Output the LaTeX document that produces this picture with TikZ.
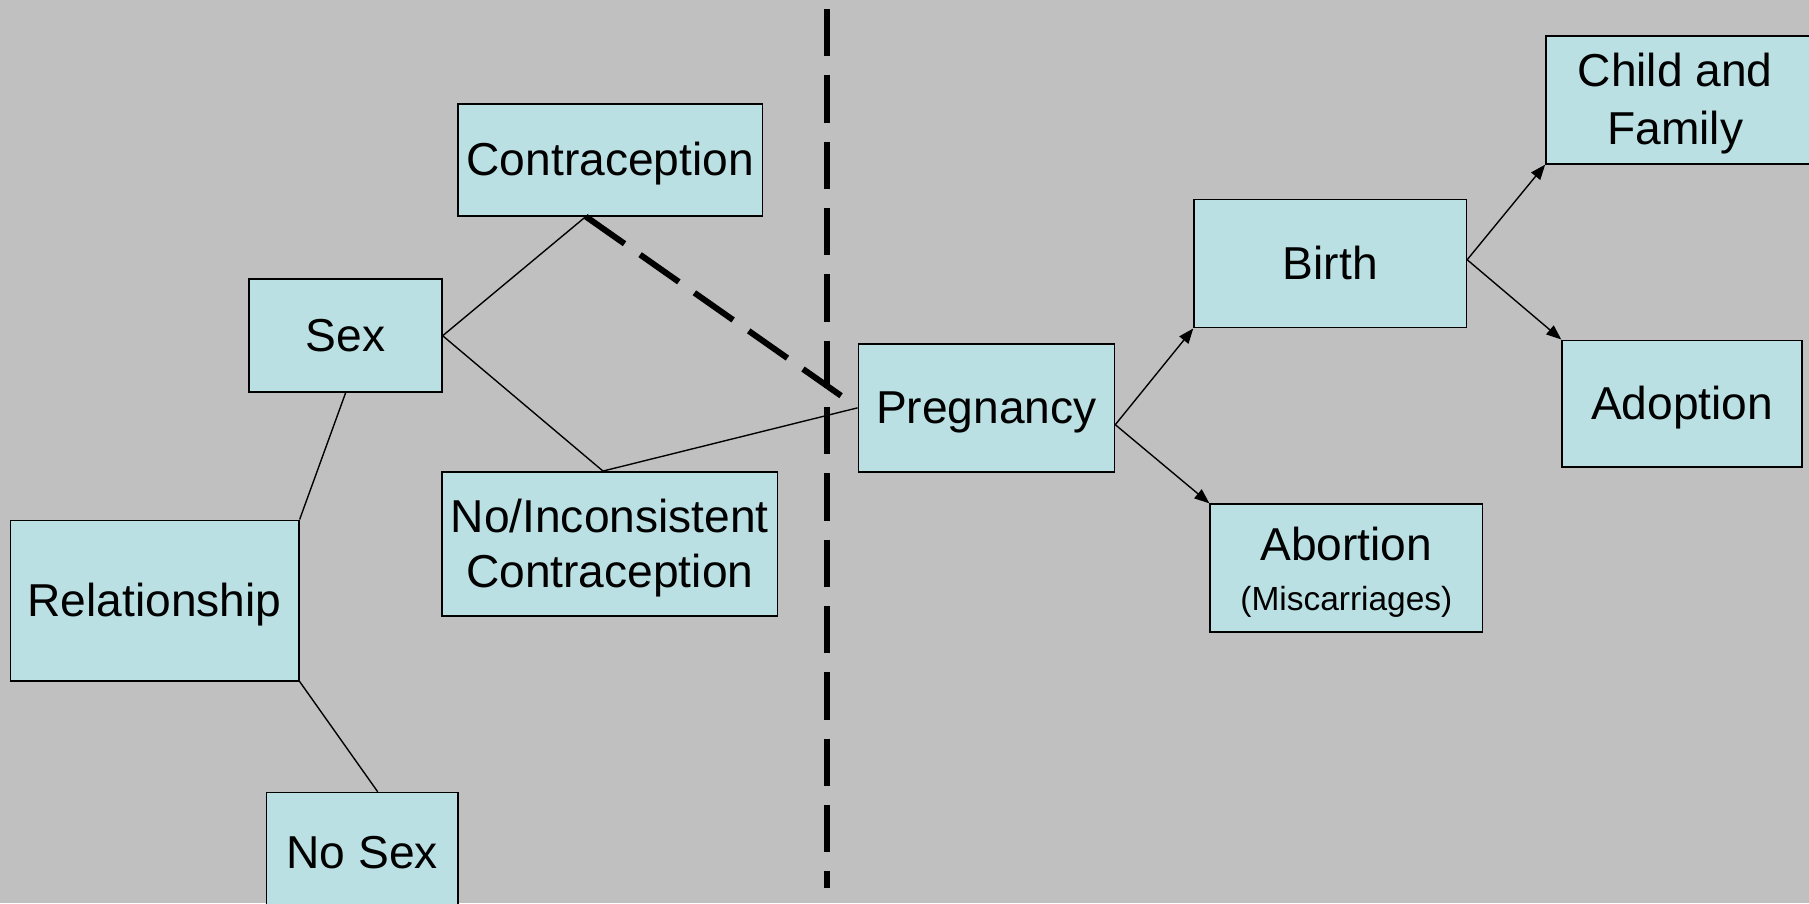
\documentclass[tikz,border=0pt]{standalone}
\usepackage{fontspec}
\setmainfont{Liberation Sans}
\usetikzlibrary{arrows.meta,calc}
\definecolor{bggray}{RGB}{192,192,192}
\definecolor{boxfill}{RGB}{186,224,227}
\newcommand\tstrut{\rule{0pt}{0.905em}}
\newcommand\bstrut{\rule[-0.212em]{0pt}{0.212em}}
\begin{document}
\begin{tikzpicture}[x=1pt,y=-1pt,
  box/.style={draw=black,fill=boxfill,line width=1.4pt,inner sep=0pt,align=center,
    font=\fontsize{40}{48}\selectfont},
  conn/.style={draw=black,line width=1.2pt},
  arr/.style={conn,-{Triangle[length=13pt,width=10pt]}},
  thickdash/.style={draw=black,line width=5.2pt,dash pattern=on 41pt off 16.5pt}]
\useasboundingbox (0,0) rectangle (1568,782.7);
\clip (0,0) rectangle (1568,782.7);
\fill[bggray] (0,0) rectangle (1568,782.7);

% nodes
\node[box,minimum width=264pt,minimum height=97pt] (contra) at (529,138.5) {\tstrut Contraception\bstrut};
\node[box,minimum width=167pt,minimum height=98pt] (sex) at (299.5,291) {\tstrut Sex\bstrut};
\node[box,minimum width=250pt,minimum height=139pt] (rel) at (134,520.5) {\tstrut Relationship\bstrut};
\node[box,minimum width=166pt,minimum height=103pt] (nosex) at (314,738.5) {\tstrut No Sex\bstrut};
\node[box,minimum width=291pt,minimum height=125pt,font=\fontsize{40}{47}\selectfont] (noc) at (528.5,471.5)
  {\tstrut No/Inconsistent\\Contraception\bstrut};
\node[box,minimum width=222pt,minimum height=111pt] (preg) at (855,353.5) {\tstrut Pregnancy\bstrut};
\node[box,minimum width=236pt,minimum height=111pt] (birth) at (1153,228.5) {\tstrut Birth\bstrut};
\node[box,minimum width=236pt,minimum height=111pt] (abort) at (1167,492.5)
  {\tstrut Abortion\\[-4pt]{\fontsize{29}{34}\selectfont (Miscarriages)\bstrut}};
\node[box,minimum width=236pt,minimum height=111pt,font=\fontsize{40}{50}\selectfont] (child) at (1458,86.5)
  {\tstrut Child and\hspace*{12pt}\\Family\hspace*{12pt}\bstrut};
\node[box,minimum width=208pt,minimum height=110pt] (adopt) at (1458,350) {\tstrut Adoption\bstrut};

% helper coordinates
\coordinate (contraB) at ($(contra.south west)!0.42!(contra.south east)$);
\coordinate (nocT) at ($(noc.north west)!0.48!(noc.north east)$);
\coordinate (nosexT) at ($(nosex.north west)!0.58!(nosex.north east)$);
\coordinate (pregR) at ($(preg.north east)!0.63!(preg.south east)$);
\coordinate (birthR) at ($(birth.north east)!0.47!(birth.south east)$);
\coordinate (dashEnd) at (729,343);
\coordinate (vtop) at (716.5,7.8);
\coordinate (vbot) at (716.5,770);

% connectors
\draw[conn] (sex.east) -- (contraB);
\draw[conn] (sex.east) -- (nocT);
\draw[conn] (sex.south) -- (rel.north east);
\draw[conn] (rel.south east) -- (nosexT);
\draw[conn] (nocT) -- (preg.west);
\draw[arr] (pregR) -- (birth.south west);
\draw[arr] (pregR) -- (abort.north west);
\draw[arr] (birthR) -- (child.south west);
\draw[arr] (birthR) -- (adopt.north west);

% dashed lines
\draw[thickdash] (vtop) -- (vbot);
\draw[thickdash] (contraB) -- (dashEnd);
\end{tikzpicture}
\end{document}
